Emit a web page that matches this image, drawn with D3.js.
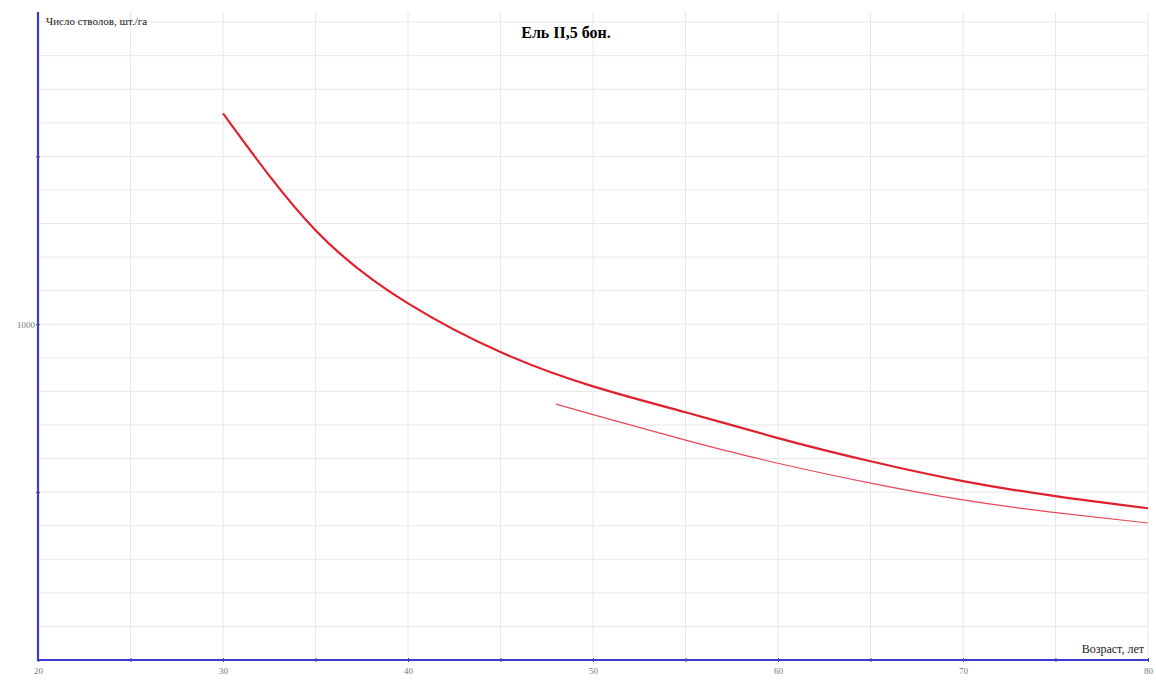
<!DOCTYPE html>
<html>
<head>
<meta charset="utf-8">
<script src="https://cdn.jsdelivr.net/npm/d3@7"></script>
<style>
  body { margin: 0; background: #fff; }
  svg text { font-family: "Liberation Serif", "DejaVu Serif", serif; }
</style>
</head>
<body>
<div id="chart"></div>
<script>
// age, years
var ages_main = [30, 35, 40, 45, 50, 55, 60, 65, 70, 75, 80];
// stems per ha, upper (thick) curve
var stems_main = [1628, 1280, 1062, 917, 815, 738, 661, 592, 533, 488, 452];

var ages_thin = [48, 50, 55, 60, 65, 70, 75, 80];
// stems per ha, lower (thin) curve
var stems_thin = [762, 731, 655, 586, 527, 477, 439, 408];

var x_ticks = [20, 25, 30, 35, 40, 45, 50, 55, 60, 65, 70, 75, 80];
var x_labels = [20, 30, 40, 50, 60, 70, 80];
var y_ticks = [500, 1000, 1500];
var y_labels = [1000];

var title = 'Ель II,5 бон.';
var y_title = 'Число стволов, шт./га';
var x_title = 'Возраст, лет';

var width = 1156, height = 681;
// plot edges (note: "top" is reserved on window, so use other names)
var m_left = 38, m_right = 1148, m_bottom = 660, m_top = 12;

var svg = d3.select('#chart').append('svg')
    .attr('width', width)
    .attr('height', height);

var x = d3.scaleLinear().domain([20, 80]).range([m_left, m_right]);
var y = d3.scaleLinear().domain([0, 1930]).range([m_bottom, m_top]);

// grid
svg.append('g').selectAll('line')
    .data(x_ticks.slice(1))
    .enter().append('line')
    .attr('x1', function(d) { return x(d); })
    .attr('x2', function(d) { return x(d); })
    .attr('y1', m_top)
    .attr('y2', m_bottom)
    .style('stroke', '#e8e8e8')
    .style('stroke-width', 1);

svg.append('g').selectAll('line')
    .data(d3.range(100, 1901, 100))
    .enter().append('line')
    .attr('x1', m_left)
    .attr('x2', m_right)
    .attr('y1', function(d) { return y(d); })
    .attr('y2', function(d) { return y(d); })
    .style('stroke', '#e8e8e8')
    .style('stroke-width', 1);

// axes
var xAxis = d3.axisBottom(x)
    .tickValues(x_ticks)
    .tickSize(3)
    .tickFormat(function(d) { return x_labels.indexOf(d) >= 0 ? d : ''; });

var gx = svg.append('g')
    .attr('transform', 'translate(0,' + m_bottom + ')')
    .call(xAxis);
gx.select('.domain').remove();
gx.selectAll('.tick line').attr('y1', -2).attr('y2', 2).style('stroke', '#3b3bd0');
gx.selectAll('.tick text').attr('dy', '0.9em').style('font-size', '9px').style('fill', '#777');

var yAxis = d3.axisLeft(y)
    .tickValues(y_ticks)
    .tickSize(3)
    .tickFormat(function(d) { return y_labels.indexOf(d) >= 0 ? d : ''; });

var gy = svg.append('g')
    .attr('transform', 'translate(' + m_left + ',0)')
    .call(yAxis);
gy.select('.domain').remove();
gy.selectAll('.tick line').attr('x1', -2).attr('x2', 2).style('stroke', '#3b3bd0');
gy.selectAll('.tick text').attr('x', -3).style('font-size', '9px').style('fill', '#777');

svg.append('line')
    .attr('x1', m_left).attr('x2', m_left)
    .attr('y1', m_top).attr('y2', m_bottom + 1)
    .style('stroke', '#3b3bd0').style('stroke-width', 2.2);
svg.append('line')
    .attr('x1', m_left - 1).attr('x2', m_right)
    .attr('y1', m_bottom).attr('y2', m_bottom)
    .style('stroke', '#3b3bd0').style('stroke-width', 2.2);

// curves
var line = d3.line()
    .x(function(d) { return x(d[0]); })
    .y(function(d) { return y(d[1]); })
    .curve(d3.curveNatural);

svg.append('path')
    .datum(d3.zip(ages_main, stems_main))
    .attr('d', line)
    .style('fill', 'none')
    .style('stroke', '#e0202c')
    .style('stroke-width', 2.2);

svg.append('path')
    .datum(d3.zip(ages_thin, stems_thin))
    .attr('d', line)
    .style('fill', 'none')
    .style('stroke', '#e8485a')
    .style('stroke-width', 1.2);

// titles
svg.append('text')
    .attr('x', 566).attr('y', 38)
    .attr('text-anchor', 'middle')
    .style('font-size', '16px')
    .style('font-weight', 'bold')
    .text(title);

svg.append('text')
    .attr('x', 46).attr('y', 25)
    .style('font-size', '11px')
    .style('fill', '#222')
    .text(y_title);

svg.append('text')
    .attr('x', 1144).attr('y', 653)
    .attr('text-anchor', 'end')
    .style('font-size', '12px')
    .style('fill', '#222')
    .text(x_title);
</script>
</body>
</html>
